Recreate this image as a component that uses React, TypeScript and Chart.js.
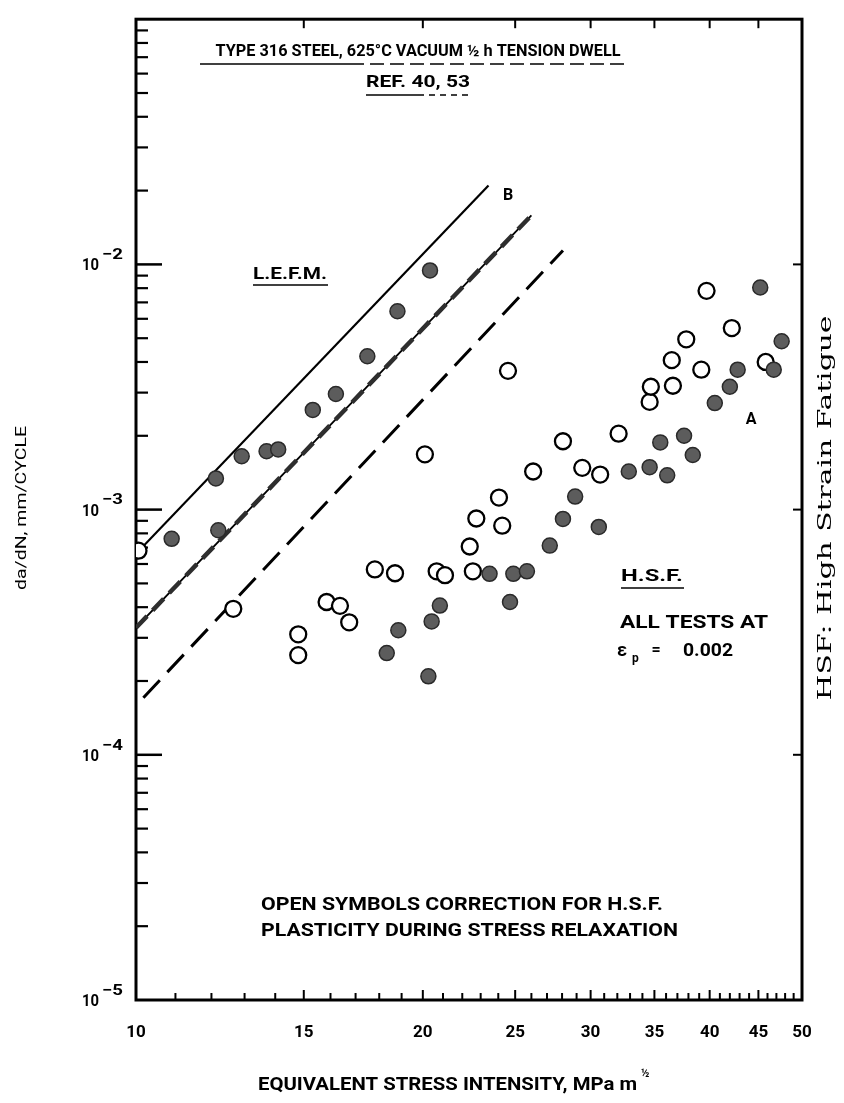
import React, { useEffect, useRef } from "react";
import { Chart, registerables } from "chart.js";

Chart.register(...registerables);

const W = 844;
const H = 1103;

// ---------- axis ticks ----------
const xLabeledTicks = [10, 15, 20, 25, 30, 35, 40, 45, 50];
const xMinorTicks = [11, 12, 13, 14, 16, 17, 18, 19, 21, 22, 23, 24, 26, 27, 28, 29, 31, 32, 33, 34, 36, 37, 38, 39, 41, 42, 43, 44, 46, 47, 48, 49];
const yDecades = [1e-5, 1e-4, 1e-3, 1e-2, 1e-1];
const yDecadeExponents = ["−5", "−4", "−3", "−2", ""];
const yMinorMantissas = [2, 3, 4, 5, 6, 7, 8, 9];
const rightBorderTicks = [1e-4, 1e-3, 1e-2];

// ---------- data: filled symbols (K, da/dN) ----------
const filledK = [10.9, 12.13, 12.2, 12.91, 13.71, 14.1, 15.33, 16.21, 17.49, 18.81, 20.35,
  18.33, 18.85, 20.27, 20.43, 20.84, 23.5, 24.89, 25.72, 24.69, 27.18, 28.06, 28.9,
  30.6, 32.9, 34.6, 36.1, 35.5, 37.6, 38.4, 40.5, 42.0, 42.8, 45.2, 46.7, 47.6];
const filledRate = [7.6e-4, 1.34e-3, 8.24e-4, 1.65e-3, 1.73e-3, 1.76e-3, 2.55e-3, 2.96e-3, 4.22e-3, 6.44e-3, 9.45e-3,
  2.6e-4, 3.22e-4, 2.09e-4, 3.5e-4, 4.06e-4, 5.47e-4, 5.47e-4, 5.6e-4, 4.2e-4, 7.13e-4, 9.16e-4, 1.13e-3,
  8.5e-4, 1.43e-3, 1.49e-3, 1.38e-3, 1.88e-3, 2.0e-3, 1.67e-3, 2.72e-3, 3.17e-3, 3.72e-3, 8.05e-3, 3.72e-3, 4.86e-3];

// ---------- data: open symbols (K, da/dN) ----------
const openK = [10.06, 12.65, 14.8, 14.8, 15.85, 16.37, 16.74, 17.81, 18.7, 20.1, 20.68, 21.1,
  22.4, 22.57, 22.76, 24.04, 24.23, 24.57, 26.11, 28.06, 29.4, 30.7, 32.1, 34.6, 34.7,
  36.5, 36.6, 37.8, 39.2, 39.7, 42.2, 45.8];
const openRate = [6.8e-4, 3.94e-4, 3.1e-4, 2.55e-4, 4.2e-4, 4.05e-4, 3.47e-4, 5.7e-4, 5.5e-4, 1.68e-3, 5.6e-4, 5.4e-4,
  7.07e-4, 5.6e-4, 9.2e-4, 1.12e-3, 8.6e-4, 3.68e-3, 1.43e-3, 1.9e-3, 1.48e-3, 1.39e-3, 2.04e-3, 2.75e-3, 3.17e-3,
  4.07e-3, 3.2e-3, 4.95e-3, 3.72e-3, 7.8e-3, 5.5e-3, 4.0e-3];

// ---------- lines ----------
const upperLineK = [10, 23.44];
const upperLineRate = [6.6e-4, 2.1e-2];
const lineBK = [10, 26.0];
const lineBRate = [3.3e-4, 1.585e-2];
const lowerLineK = [10.18, 28.06];
const lowerLineRate = [1.71e-4, 1.14e-2];

const toPts = (xs: number[], ys: number[]) => xs.map((x, i) => ({ x, y: ys[i] }));

const FONT = "Roboto, 'DejaVu Sans', sans-serif";
const SERIF = "'DejaVu Serif', 'Liberation Serif', serif";

function fitText(
  ctx: CanvasRenderingContext2D,
  text: string,
  x: number,
  y: number,
  size: number,
  width: number | null,
  align: CanvasTextAlign = "left",
  family: string = FONT,
  weight: string = "bold"
) {
  ctx.save();
  ctx.font = `${weight} ${size}px ${family}`;
  const w = ctx.measureText(text).width;
  const sx = width ? width / w : 1;
  ctx.translate(x, y);
  ctx.scale(sx, 1);
  ctx.textAlign = align;
  ctx.textBaseline = "middle";
  ctx.fillStyle = "#000";
  ctx.fillText(text, 0, 0);
  ctx.restore();
}

function seg(ctx: CanvasRenderingContext2D, x1: number, y1: number, x2: number, y2: number) {
  ctx.beginPath();
  ctx.moveTo(x1, y1);
  ctx.lineTo(x2, y2);
  ctx.stroke();
}

const decorPlugin = {
  id: "decor",
  beforeDatasetsDraw(chart: any) {
    const { ctx, chartArea } = chart;
    const { left, right, top, bottom } = chartArea;
    const xs = chart.scales.x;
    const ys = chart.scales.y;
    ctx.save();
    ctx.strokeStyle = "#000";
    ctx.lineCap = "butt";
    ctx.lineWidth = 2;
    for (const v of xLabeledTicks) {
      const px = xs.getPixelForValue(v);
      seg(ctx, px, bottom, px, bottom - 10);
      if (v > 10 && v < 50) seg(ctx, px, top, px, top + 9);
    }
    for (const v of xMinorTicks) {
      const px = xs.getPixelForValue(v);
      seg(ctx, px, bottom, px, bottom - 7);
    }
    for (const d of yDecades) {
      const py = ys.getPixelForValue(d);
      ctx.lineWidth = 2.5;
      if (d > 1e-5 && d < 1e-1) seg(ctx, left, py, left + 26, py);
      ctx.lineWidth = 2.2;
      if (d < 1e-1) {
        for (const m of yMinorMantissas) {
          const pm = ys.getPixelForValue(d * m);
          seg(ctx, left, pm, left + 12, pm);
        }
      }
    }
    ctx.lineWidth = 2;
    for (const d of rightBorderTicks) {
      const py = ys.getPixelForValue(d);
      seg(ctx, right, py, right - 9, py);
    }
    ctx.lineWidth = 3;
    ctx.strokeRect(left, top, right - left, bottom - top);
    ctx.restore();
  },
  afterDraw(chart: any) {
    const { ctx } = chart;
    const ys = chart.scales.y;
    ctx.save();
    ctx.strokeStyle = "#000";
    ctx.lineWidth = 1.6;

    // y decade labels 10^n
    yDecades.forEach((d, i) => {
      if (!yDecadeExponents[i]) return;
      const py = ys.getPixelForValue(d);
      fitText(ctx, "10", 99, py + 2, 16, 17, "right");
      fitText(ctx, yDecadeExponents[i], 102, py - 9, 15, 21, "left");
    });

    // title
    fitText(ctx, "TYPE 316 STEEL, 625°C VACUUM ½ h TENSION DWELL", 418, 52, 16, 405, "center");
    seg(ctx, 200, 64, 350, 64);
    ctx.setLineDash([14, 6]);
    seg(ctx, 350, 64, 625, 64);
    ctx.setLineDash([]);
    fitText(ctx, "REF. 40, 53", 418, 83, 16, 104, "center");
    seg(ctx, 366, 95, 418, 95);
    ctx.setLineDash([6, 5]);
    seg(ctx, 418, 95, 470, 95);
    ctx.setLineDash([]);

    // L.E.F.M.
    fitText(ctx, "L.E.F.M.", 253, 275, 16, 74, "left");
    seg(ctx, 253, 285, 328, 285);
    // B and A
    fitText(ctx, "B", 508, 196, 16, null, "center");
    fitText(ctx, "A", 751, 420, 16, null, "center");

    // H.S.F. block
    fitText(ctx, "H.S.F.", 621, 577, 17, 62, "left");
    seg(ctx, 621, 588, 684, 588);
    fitText(ctx, "ALL TESTS AT", 620, 623, 18, 148, "left");
    fitText(ctx, "ε", 617, 651, 18, null, "left");
    fitText(ctx, "p", 632, 659, 12, null, "left");
    fitText(ctx, "=", 656, 651, 16, null, "center");
    fitText(ctx, "0.002", 683, 651, 18, 50, "left");

    // open symbols note
    fitText(ctx, "OPEN SYMBOLS CORRECTION FOR H.S.F.", 261, 905, 19, 402, "left");
    fitText(ctx, "PLASTICITY DURING STRESS RELAXATION", 261, 931, 19, 417, "left");

    // x axis title
    fitText(ctx, "EQUIVALENT STRESS INTENSITY, MPa m", 258, 1085, 18, 379, "left");
    fitText(ctx, "½", 641, 1074, 11, null, "left");

    // y axis title (rotated)
    ctx.save();
    ctx.translate(22, 508);
    ctx.rotate(-Math.PI / 2);
    fitText(ctx, "da/dN, mm/CYCLE", 0, 0, 15, 164, "center", FONT, "normal");
    ctx.restore();

    // right side note (rotated)
    ctx.save();
    ctx.translate(826, 508);
    ctx.rotate(-Math.PI / 2);
    fitText(ctx, "HSF: High Strain Fatigue", 0, 0, 18, 385, "center", SERIF, "normal");
    ctx.restore();
    ctx.restore();
  },
};

export default function App() {
  const ref = useRef<HTMLCanvasElement | null>(null);

  useEffect(() => {
    if (!ref.current) return;
    const yTickValues: number[] = [];
    for (const d of yDecades) {
      yTickValues.push(d);
      if (d < 1e-1) for (const m of yMinorMantissas) yTickValues.push(d * m);
    }
    const xTickValues = [...xLabeledTicks, ...xMinorTicks].sort((a, b) => a - b);

    const chart = new Chart(ref.current, {
      type: "scatter",
      data: {
        datasets: [
          {
            label: "Filled",
            data: toPts(filledK, filledRate),
            pointStyle: "circle",
            pointRadius: 7.5,
            pointBackgroundColor: "#5c5c5c",
            pointBorderColor: "#2a2a2a",
            pointBorderWidth: 1.5,
            order: 1,
          },
          {
            label: "Open",
            data: toPts(openK, openRate),
            pointStyle: "circle",
            pointRadius: 8,
            pointBackgroundColor: "#ffffff",
            pointBorderColor: "#000",
            pointBorderWidth: 2.3,
            order: 2,
          },
          {
            label: "Upper",
            type: "line",
            data: toPts(upperLineK, upperLineRate),
            showLine: true,
            borderColor: "#000",
            borderWidth: 2.2,
            pointRadius: 0,
            order: 5,
          } as any,
          {
            label: "B solid",
            type: "line",
            data: toPts(lineBK, lineBRate),
            showLine: true,
            borderColor: "#000",
            borderWidth: 1.8,
            pointRadius: 0,
            order: 6,
          } as any,
          {
            label: "B dashed",
            type: "line",
            data: toPts(lineBK, lineBRate),
            showLine: true,
            borderColor: "#2e2e2e",
            borderWidth: 4.5,
            borderDash: [16, 8],
            pointRadius: 0,
            order: 4,
          } as any,
          {
            label: "Lower",
            type: "line",
            data: toPts(lowerLineK, lowerLineRate),
            showLine: true,
            borderColor: "#000",
            borderWidth: 3,
            borderDash: [24, 11],
            pointRadius: 0,
            order: 3,
          } as any,
        ],
      },
      options: {
        responsive: false,
        maintainAspectRatio: false,
        devicePixelRatio: 1,
        animation: false,
        events: [],
        layout: { padding: { left: 0, right: 42, top: 6, bottom: 0 } },
        plugins: { legend: { display: false }, tooltip: { enabled: false }, title: { display: false } },
        scales: {
          x: {
            type: "logarithmic",
            min: 10,
            max: 50,
            afterBuildTicks: (s: any) => {
              s.ticks = xTickValues.map((v) => ({ value: v }));
            },
            afterFit: (s: any) => {
              s.height = 103;
            },
            grid: { display: false, drawTicks: false },
            border: { display: false },
            ticks: {
              autoSkip: false,
              maxRotation: 0,
              minRotation: 0,
              padding: 23,
              color: "#000",
              font: { family: FONT, size: 17, weight: "bold" },
              callback: (v: any) => (xLabeledTicks.includes(Number(v)) ? String(v) : ""),
            },
          },
          y: {
            type: "logarithmic",
            min: 1e-5,
            max: 1e-1,
            afterBuildTicks: (s: any) => {
              s.ticks = yTickValues.map((v) => ({ value: v }));
            },
            afterFit: (s: any) => {
              s.width = 136;
            },
            grid: { display: false, drawTicks: false },
            border: { display: false },
            ticks: {
              autoSkip: false,
              padding: 12,
              color: "#000",
              callback: () => "",
            },
          },
        },
      },
      plugins: [decorPlugin],
    } as any);

    return () => chart.destroy();
  }, []);

  return (
    <div style={{ position: "absolute", left: 0, top: 0, width: W, height: H, background: "#fff" }}>
      <canvas ref={ref} width={W} height={H} style={{ display: "block", width: W, height: H }} />
    </div>
  );
}
